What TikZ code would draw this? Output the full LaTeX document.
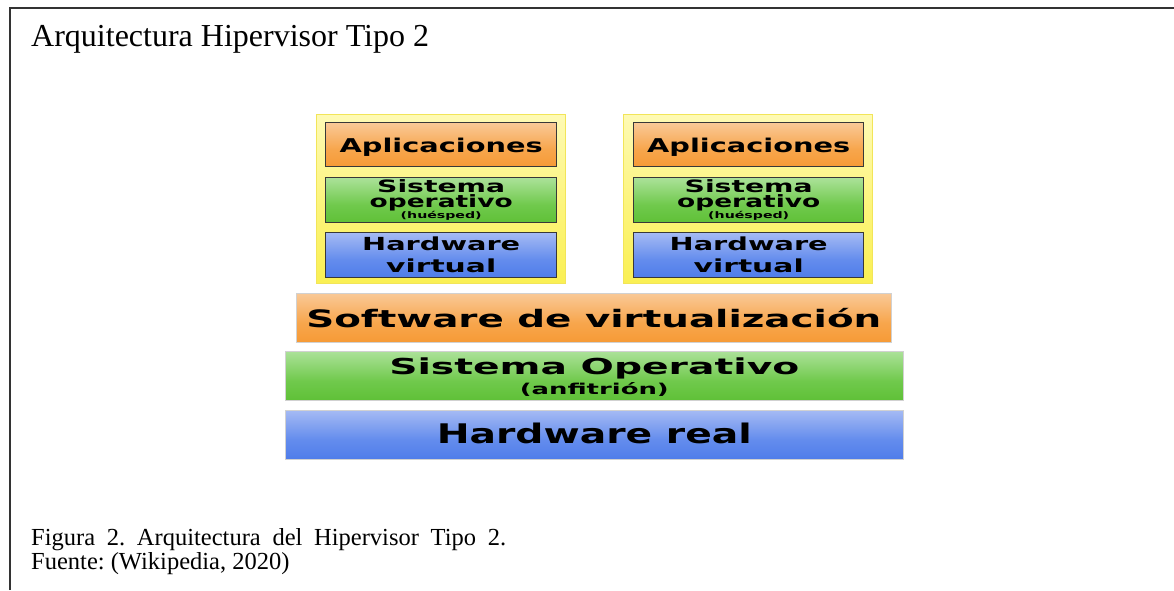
\documentclass[tikz,border=0pt]{standalone}
\usepackage{fontspec}
\usepackage{graphicx}
\setmainfont{Liberation Serif}
\newfontfamily\dejavu{DejaVu Sans}

% vertical colour ramps for the layers (0bp = bottom, 100bp = top)
\pgfdeclareverticalshading{orangeramp}{100bp}{rgb(0bp)=(0.96,0.55,0.10); rgb(45bp)=(0.97,0.65,0.30); rgb(80bp)=(0.98,0.81,0.64); rgb(100bp)=(0.99,0.94,0.90)}
\pgfdeclareverticalshading{greenramp}{100bp}{rgb(0bp)=(0.29,0.71,0.11); rgb(45bp)=(0.44,0.79,0.30); rgb(80bp)=(0.71,0.90,0.65); rgb(100bp)=(0.92,0.98,0.90)}
\pgfdeclareverticalshading{blueramp}{100bp}{rgb(0bp)=(0.21,0.41,0.90); rgb(45bp)=(0.39,0.55,0.93); rgb(80bp)=(0.69,0.76,0.96); rgb(100bp)=(0.92,0.94,0.99)}
\pgfdeclareverticalshading{yellowramp}{100bp}{rgb(0bp)=(0.97,0.92,0.15); rgb(50bp)=(0.99,0.96,0.50); rgb(100bp)=(1,1,0.92)}

% stretch a text horizontally to a given width, keeping its height
\newcommand{\wideto}[2]{\resizebox{#1pt}{\height}{#2}}

\begin{document}
\frenchspacing
\begin{tikzpicture}[x=1pt,y=1pt,
  guestbox/.style={anchor=north west, inner sep=0pt, shade, shading=yellowramp,
                   draw={rgb,1:red,0.95;green,0.90;blue,0.35}, line width=0.9pt},
  layerbox/.style={anchor=north west, inner sep=0pt, shade, draw=black!78, line width=1.4pt},
  basebar/.style={anchor=north west, inner sep=0pt, shade, draw=black!18, line width=0.6pt},
  lbl/.style={anchor=base, inner sep=0pt, text=black},
  serif/.style={anchor=base west, inner sep=0pt, text=black}]

\useasboundingbox (0,0) rectangle (1174,-590);
\fill[white] (0,0) rectangle (1174,-590);

% frame
\draw[black!80, line width=1.6pt] (10,-590) -- (10,-8) -- (1174,-8);

% headings
\node[serif, font=\fontsize{32}{36}\selectfont] (title) at (31,-46) {Arquitectura Hipervisor Tipo 2};
\node[serif, font=\fontsize{24.5}{28}\selectfont] (cap1) at (31,-545) {\makebox[475pt][s]{Figura 2. Arquitectura del Hipervisor Tipo 2.}};
\node[serif, font=\fontsize{24.5}{28}\selectfont] (cap2) at (31,-569) {Fuente: (Wikipedia, 2020)};

% guest machines
\foreach \gx/\bx/\bw/\n in {316/325/231/1, 623/633/230/2}{
  \node[guestbox, minimum width=249pt, minimum height=169pt] (vm\n) at (\gx,-114) {};
  \node[layerbox, shading=orangeramp, minimum width=\bw pt, minimum height=44pt] (app\n) at (\bx,-122) {};
  \node[layerbox, shading=greenramp, minimum width=\bw pt, minimum height=45pt] (gos\n) at (\bx,-177) {};
  \node[layerbox, shading=blueramp, minimum width=\bw pt, minimum height=45pt] (vhw\n) at (\bx,-232) {};
  \node[lbl, font=\dejavu\bfseries\fontsize{19}{20}\selectfont] (tapp\n) at ([yshift=-30pt]app\n.north) {\wideto{203}{Aplicaciones}};
  \node[lbl, font=\dejavu\bfseries\fontsize{17}{18}\selectfont] (tgos\n a) at ([yshift=-15pt]gos\n.north) {\wideto{128}{Sistema}};
  \node[lbl, font=\dejavu\bfseries\fontsize{17}{18}\selectfont] (tgos\n b) at ([yshift=-30pt]gos\n.north) {\wideto{143}{operativo}};
  \node[lbl, font=\dejavu\bfseries\fontsize{9}{10}\selectfont] (tgos\n c) at ([yshift=-41pt]gos\n.north) {\wideto{81}{(huésped)}};
  \node[lbl, font=\dejavu\bfseries\fontsize{18}{19}\selectfont] (tvhw\n a) at ([yshift=-18pt]vhw\n.north) {\wideto{158}{Hardware}};
  \node[lbl, font=\dejavu\bfseries\fontsize{18}{19}\selectfont] (tvhw\n b) at ([yshift=-40pt]vhw\n.north) {\wideto{110}{virtual}};
}

% host layers
\node[basebar, shading=orangeramp, minimum width=595pt, minimum height=49pt] (virt) at (296,-293) {};
\node[basebar, shading=greenramp, minimum width=618pt, minimum height=49pt] (host) at (285,-351) {};
\node[basebar, shading=blueramp, minimum width=618pt, minimum height=49pt] (real) at (285,-410) {};

\node[lbl, font=\dejavu\bfseries\fontsize{24}{26}\selectfont] (tvirt) at ([yshift=-34pt]virt.north) {\wideto{575}{Software de virtualización}};
\node[lbl, font=\dejavu\bfseries\fontsize{22}{24}\selectfont] (thost) at ([yshift=-23pt]host.north) {\wideto{410}{Sistema Operativo}};
\node[lbl, font=\dejavu\bfseries\fontsize{15}{16}\selectfont] (thostb) at ([yshift=-43pt]host.north) {\wideto{149}{(anfitrión)}};
\node[lbl, font=\dejavu\bfseries\fontsize{27}{29}\selectfont] (treal) at ([yshift=-33pt]real.north) {\wideto{315}{Hardware real}};

\end{tikzpicture}
\end{document}
